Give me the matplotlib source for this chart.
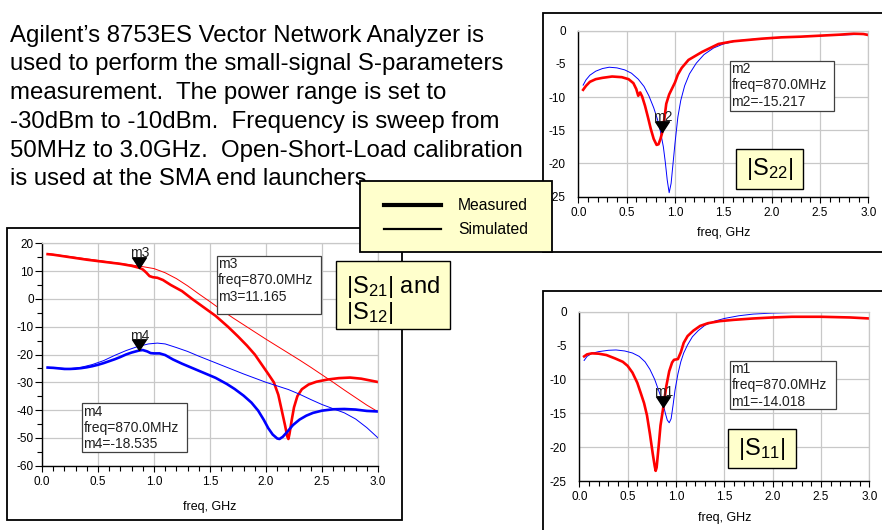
import matplotlib
matplotlib.use("Agg")
import matplotlib.pyplot as plt
from matplotlib.patches import Rectangle
from matplotlib.lines import Line2D
from matplotlib.path import Path
from matplotlib.markers import MarkerStyle
from matplotlib.ticker import MultipleLocator

plt.rcParams['font.family'] = ['Liberation Sans', 'DejaVu Sans']
plt.rcParams['mathtext.default'] = 'regular'

W, H = 882, 530

# |S21| measured / simulated (freq GHz, dB)
f21_meas = [0.05, 0.1, 0.2, 0.3, 0.4, 0.5, 0.6, 0.7, 0.8, 0.87, 0.9, 0.93, 0.96, 0.99,
            1.03, 1.08, 1.15, 1.25, 1.34, 1.45, 1.55, 1.66, 1.75, 1.83, 1.9, 1.96, 2.02,
            2.07, 2.11, 2.14, 2.17, 2.19, 2.2, 2.21, 2.23, 2.25, 2.28, 2.32, 2.38, 2.45,
            2.55, 2.65, 2.75, 2.85, 2.95, 3.0]
s21_meas = [16.1, 15.9, 15.3, 14.7, 14.1, 13.6, 13.1, 12.6, 11.9, 11.165, 10.6, 9.5, 8.2, 7.8,
            7.6, 6.8, 5.0, 2.8, 0.0, -3.2, -6.1, -10.0, -13.5, -16.8, -20.0, -23.5, -27.0,
            -30.0, -34.5, -40.0, -45.5, -49.5, -50.4, -48.5, -43.5, -39.0, -35.0, -32.5, -30.8, -29.8,
            -29.0, -28.5, -28.3, -28.7, -29.5, -29.9]
f21_sim = [0.05, 0.2, 0.4, 0.6, 0.8, 0.9, 1.0, 1.1, 1.2, 1.3, 1.4, 1.5, 1.6, 1.7, 1.8,
           1.9, 2.0, 2.1, 2.2, 2.3, 2.4, 2.5, 2.6, 2.7, 2.8, 2.9, 3.0]
s21_sim = [16.3, 15.5, 14.4, 13.3, 12.2, 11.6, 10.9, 9.4, 7.3, 4.7, 1.8, -1.0, -3.9, -6.7, -9.3,
           -11.9, -14.5, -17.0, -19.5, -22.0, -24.6, -27.3, -30.0, -32.8, -35.5, -38.2, -40.6]

# |S12| measured / simulated
f12_meas = [0.05, 0.1, 0.15, 0.2, 0.25, 0.3, 0.35, 0.4, 0.45, 0.5, 0.55, 0.6, 0.65, 0.7, 0.75,
            0.8, 0.87, 0.9, 0.94, 0.97, 1.0, 1.05, 1.1, 1.17, 1.25, 1.35, 1.45, 1.55, 1.65,
            1.72, 1.8, 1.87, 1.93, 1.98, 2.02, 2.06, 2.1, 2.12, 2.15, 2.19, 2.24, 2.3, 2.36,
            2.42, 2.5, 2.6, 2.7, 2.8, 2.9, 3.0]
s12_meas = [-24.7, -24.8, -25.0, -25.2, -25.2, -25.1, -24.9, -24.6, -24.2, -23.7, -23.1, -22.4,
            -21.7, -20.9, -20.0, -19.3, -18.535, -18.4, -18.9, -19.5, -19.6, -19.6, -20.2, -21.8,
            -23.3, -25.0, -26.7, -28.4, -30.6, -32.4, -34.8, -37.3, -40.2, -43.5, -46.5, -48.8,
            -50.2, -50.4, -49.6, -47.8, -45.4, -43.4, -42.0, -41.0, -40.2, -39.7, -39.6, -39.8,
            -40.3, -40.5]
f12_sim = [0.05, 0.15, 0.25, 0.35, 0.45, 0.55, 0.65, 0.75, 0.85, 0.95, 1.03, 1.1, 1.2, 1.3,
           1.4, 1.5, 1.6, 1.7, 1.8, 1.9, 2.0, 2.1, 2.2, 2.3, 2.4, 2.5, 2.6, 2.7, 2.8, 2.9, 3.0]
s12_sim = [-24.6, -24.9, -25.1, -24.6, -23.6, -22.2, -20.3, -18.6, -17.2, -16.2, -15.9, -16.2,
           -17.5, -18.9, -20.6, -22.2, -23.8, -25.4, -27.0, -28.5, -30.0, -31.3, -32.6, -34.3,
           -36.2, -38.0, -39.5, -41.0, -43.2, -46.3, -50.0]

# |S22|
f22_meas = [0.05, 0.08, 0.12, 0.18, 0.25, 0.35, 0.45, 0.52, 0.57, 0.6, 0.62, 0.64, 0.66, 0.69,
            0.72, 0.75, 0.78, 0.81, 0.83, 0.85, 0.87, 0.89, 0.91, 0.94, 0.97, 1.0, 1.03, 1.07,
            1.14, 1.28, 1.45, 1.6, 1.75, 1.9, 2.1, 2.3, 2.5, 2.7, 2.85, 2.95, 3.0]
s22_meas = [-8.9, -8.3, -7.7, -7.3, -7.1, -6.9, -7.0, -7.3, -7.9, -8.8, -9.8, -9.3, -9.9, -11.3,
            -13.0, -14.8, -16.3, -17.2, -17.1, -16.3, -15.217, -13.3, -11.0, -9.6, -8.7, -7.8,
            -6.6, -5.6, -4.4, -3.2, -2.0, -1.6, -1.4, -1.2, -1.0, -0.9, -0.75, -0.6, -0.45,
            -0.5, -0.65]
f22_sim = [0.05, 0.08, 0.12, 0.18, 0.25, 0.32, 0.4, 0.48, 0.55, 0.62, 0.68, 0.73, 0.78, 0.82,
           0.85, 0.88, 0.9, 0.92, 0.94, 0.96, 0.98, 1.0, 1.03, 1.06, 1.1, 1.15, 1.22, 1.3, 1.4,
           1.5, 1.65, 1.8, 2.0, 2.2, 2.5, 2.8, 3.0]
s22_sim = [-8.2, -7.4, -6.7, -6.1, -5.7, -5.5, -5.6, -5.9, -6.4, -7.3, -8.4, -9.8, -11.6, -13.4,
           -15.2, -17.5, -19.8, -22.5, -24.4, -23.0, -20.0, -17.0, -13.0, -10.5, -8.3, -6.5, -4.9,
           -3.6, -2.6, -2.0, -1.5, -1.3, -1.1, -0.95, -0.75, -0.6, -0.55]

# |S11|
f11_meas = [0.05, 0.08, 0.13, 0.2, 0.28, 0.37, 0.45, 0.5, 0.55, 0.6, 0.64, 0.67, 0.7, 0.73,
            0.76, 0.78, 0.79, 0.8, 0.82, 0.84, 0.87, 0.9, 0.93, 0.96, 0.98, 1.02, 1.05, 1.08,
            1.12, 1.18, 1.25, 1.33, 1.45, 1.6, 1.8, 2.0, 2.2, 2.5, 2.8, 3.0]
s11_meas = [-6.6, -6.3, -6.15, -6.2, -6.4, -6.9, -7.4, -8.0, -9.0, -10.5, -12.2, -13.5, -15.3,
            -18.0, -21.0, -22.8, -23.5, -23.0, -20.0, -16.8, -14.018, -11.0, -8.8, -7.5, -7.1,
            -7.0, -6.0, -4.6, -3.6, -2.8, -2.1, -1.7, -1.4, -1.2, -1.0, -0.85, -0.75, -0.75,
            -0.85, -1.0]
f11_sim = [0.05, 0.08, 0.13, 0.2, 0.3, 0.38, 0.47, 0.55, 0.62, 0.68, 0.73, 0.78, 0.82, 0.86,
           0.89, 0.91, 0.93, 0.95, 0.97, 0.99, 1.02, 1.05, 1.08, 1.12, 1.17, 1.23, 1.3, 1.4,
           1.5, 1.65, 1.8, 2.0, 2.3, 2.6, 3.0]
s11_sim = [-7.2, -6.6, -6.15, -5.9, -5.7, -5.65, -5.8, -6.1, -6.6, -7.4, -8.5, -10.0, -11.6,
           -13.2, -15.0, -16.0, -16.4, -15.8, -13.8, -11.6, -9.2, -7.4, -6.1, -4.9, -3.7, -2.8,
           -2.0, -1.4, -1.0, -0.6, -0.35, -0.2, -0.1, -0.05, 0.0]

# markers at 870 MHz
m_freq = 0.87
m1_val, m2_val, m3_val, m4_val = -14.018, -15.217, 11.165, -18.535

para_lines = [
    "Agilent\u2019s 8753ES Vector Network Analyzer is",
    "used to perform the small-signal S-parameters",
    "measurement.  The power range is set to",
    "-30dBm to -10dBm.  Frequency is sweep from",
    "50MHz to 3.0GHz.  Open-Short-Load calibration",
    "is used at the SMA end launchers.",
]

RED = '#ff0000'
BLUE = '#0000ff'
YELLOW = '#ffffcc'
GRID = '#c8c8c8'


def px_rect(x0, y0, x1, y1):
    return [x0 / W, 1 - y1 / H, (x1 - x0) / W, (y1 - y0) / H]


def px_box(fig, x0, y0, x1, y1, face='white', edge='black', lw=1.2, z=1):
    r = Rectangle((x0 / W, 1 - y1 / H), (x1 - x0) / W, (y1 - y0) / H,
                  transform=fig.transFigure, facecolor=face, edgecolor=edge,
                  linewidth=lw, zorder=z)
    fig.add_artist(r)


def px_text(fig, x, y, s, **kw):
    return fig.text(x / W, 1 - y / H, s, **kw)


# downward triangle with its tip at the data point
tri = MarkerStyle(Path([(-0.65, 1.0), (0.65, 1.0), (0.0, 0.0), (-0.65, 1.0)],
                       [Path.MOVETO, Path.LINETO, Path.LINETO, Path.CLOSEPOLY]))


def style_axes(ax, ylim, ymajor, yminor, ytick_len, ypad):
    ax.set_xlim(0, 3.0)
    ax.set_ylim(*ylim)
    ax.xaxis.set_major_locator(MultipleLocator(0.5))
    ax.xaxis.set_minor_locator(MultipleLocator(0.1))
    ax.yaxis.set_major_locator(MultipleLocator(ymajor))
    if yminor:
        ax.yaxis.set_minor_locator(MultipleLocator(yminor))
    ax.xaxis.set_major_formatter(matplotlib.ticker.FormatStrFormatter('%.1f'))
    ax.yaxis.set_major_formatter(matplotlib.ticker.FormatStrFormatter('%d'))
    ax.grid(True, which='major', color=GRID, lw=0.9)
    ax.set_axisbelow(True)
    for s in ('top', 'right'):
        ax.spines[s].set_color(GRID)
        ax.spines[s].set_linewidth(0.9)
    for s in ('left', 'bottom'):
        ax.spines[s].set_linewidth(1.0)
    ax.tick_params(axis='x', which='major', direction='out', length=4.5, width=0.8,
                   labelsize=8.5, pad=3)
    ax.tick_params(axis='x', which='minor', direction='out', length=3.5, width=0.8)
    ax.tick_params(axis='y', which='major', direction='out', length=ytick_len, width=0.8,
                   labelsize=8.5, pad=ypad)
    ax.tick_params(axis='y', which='minor', direction='out', length=3.5, width=0.8)
    ax.set_xlabel('freq, GHz', fontsize=9, labelpad=6)


def add_marker(ax, y, name):
    ax.plot([m_freq], [y], marker=tri, ms=15.4, color='black', ls='none', zorder=5)
    ax.annotate(name, (m_freq, y), xytext=(0, 5.5), textcoords='offset points',
                ha='center', va='bottom', fontsize=10, color='#202020', zorder=6)


fig = plt.figure(figsize=(W / 100, H / 100), dpi=100)

# panel frames
px_box(fig, 7, 228, 402, 520, lw=1.3, z=-1)
px_box(fig, 543, 13, 890, 252, lw=1.3, z=-1)
px_box(fig, 543, 291, 890, 540, lw=1.3, z=-1)

# |S21| and |S12|
ax1 = fig.add_axes(px_rect(42, 243.3, 378, 465.7))
ax1.plot(f21_sim, s21_sim, color=RED, lw=0.7)
ax1.plot(f21_meas, s21_meas, color=RED, lw=1.9)
ax1.plot(f12_sim, s12_sim, color=BLUE, lw=0.7)
ax1.plot(f12_meas, s12_meas, color=BLUE, lw=1.9)
style_axes(ax1, (-60, 20), 10, 5, 5, 1)
ax1.xaxis.labelpad = 9
add_marker(ax1, m3_val, 'm3')
add_marker(ax1, m4_val, 'm4')

# |S22|
ax2 = fig.add_axes(px_rect(578.3, 30.7, 868.3, 196.7))
ax2.plot(f22_sim, s22_sim, color=BLUE, lw=0.7)
ax2.plot(f22_meas, s22_meas, color=RED, lw=1.9)
style_axes(ax2, (-25, 0), 5, None, 0, 9)
add_marker(ax2, m2_val, 'm2')

# |S11|
ax3 = fig.add_axes(px_rect(579.3, 311.7, 869.3, 481))
ax3.plot(f11_sim, s11_sim, color=BLUE, lw=0.7)
ax3.plot(f11_meas, s11_meas, color=RED, lw=1.9)
style_axes(ax3, (-25, 0), 5, None, 0, 9)
add_marker(ax3, m1_val, 'm1')

# marker readout boxes
readouts = [
    ((216.7, 255.7, 320.7, 313.7), 'm3', m3_val),
    ((82, 403, 186.7, 451.7), 'm4', m4_val),
    ((730, 60.7, 834.3, 110.7), 'm2', m2_val),
    ((730, 360.7, 836, 408.7), 'm1', m1_val),
]
for (x0, y0, x1, y1), name, val in readouts:
    px_box(fig, x0, y0, x1, y1, edge='#404040', lw=0.9, z=3)
    px_text(fig, x0 + 1.5, y0 + 1.5,
            f"{name}\nfreq={m_freq * 1000:.1f}MHz\n{name}={val:.3f}",
            ha='left', va='top', fontsize=10, color='#202020', zorder=4)

# paragraph
for i, line in enumerate(para_lines):
    px_text(fig, 9.5, 41.7 + i * 28.7, line, ha='left', va='baseline',
            fontsize=17.3, color='black', zorder=2)

# legend box
px_box(fig, 360, 181, 552, 252, face=YELLOW, lw=1.3, z=5)
fig.add_artist(Line2D([384 / W, 441 / W], [1 - 205 / H, 1 - 205 / H], color='black',
                      lw=3.0, transform=fig.transFigure, zorder=6))
fig.add_artist(Line2D([384 / W, 441 / W], [1 - 229 / H, 1 - 229 / H], color='black',
                      lw=1.6, transform=fig.transFigure, zorder=6))
px_text(fig, 458, 205, 'Measured', ha='left', va='center', fontsize=11.3, zorder=6)
px_text(fig, 458, 229, 'Simulated', ha='left', va='center', fontsize=11.3, zorder=6)

# parameter label boxes
px_box(fig, 336, 261, 450, 329, face=YELLOW, lw=1.0, z=5)
px_text(fig, 346, 292.7, r'$|S_{21}|$ and', ha='left', va='baseline', fontsize=17, zorder=6)
px_text(fig, 346, 319.3, r'$|S_{12}|$', ha='left', va='baseline', fontsize=17, zorder=6)

px_box(fig, 736, 149, 802.7, 188.7, face=YELLOW, lw=1.0, z=5)
px_text(fig, 769.3, 168.8, r'$|S_{22}|$', ha='center', va='center', fontsize=17, zorder=6)

px_box(fig, 728, 429, 795.7, 468, face=YELLOW, lw=1.0, z=5)
px_text(fig, 761.8, 448.5, r'$|S_{11}|$', ha='center', va='center', fontsize=17, zorder=6)

fig.savefig('out.png', dpi=100)
